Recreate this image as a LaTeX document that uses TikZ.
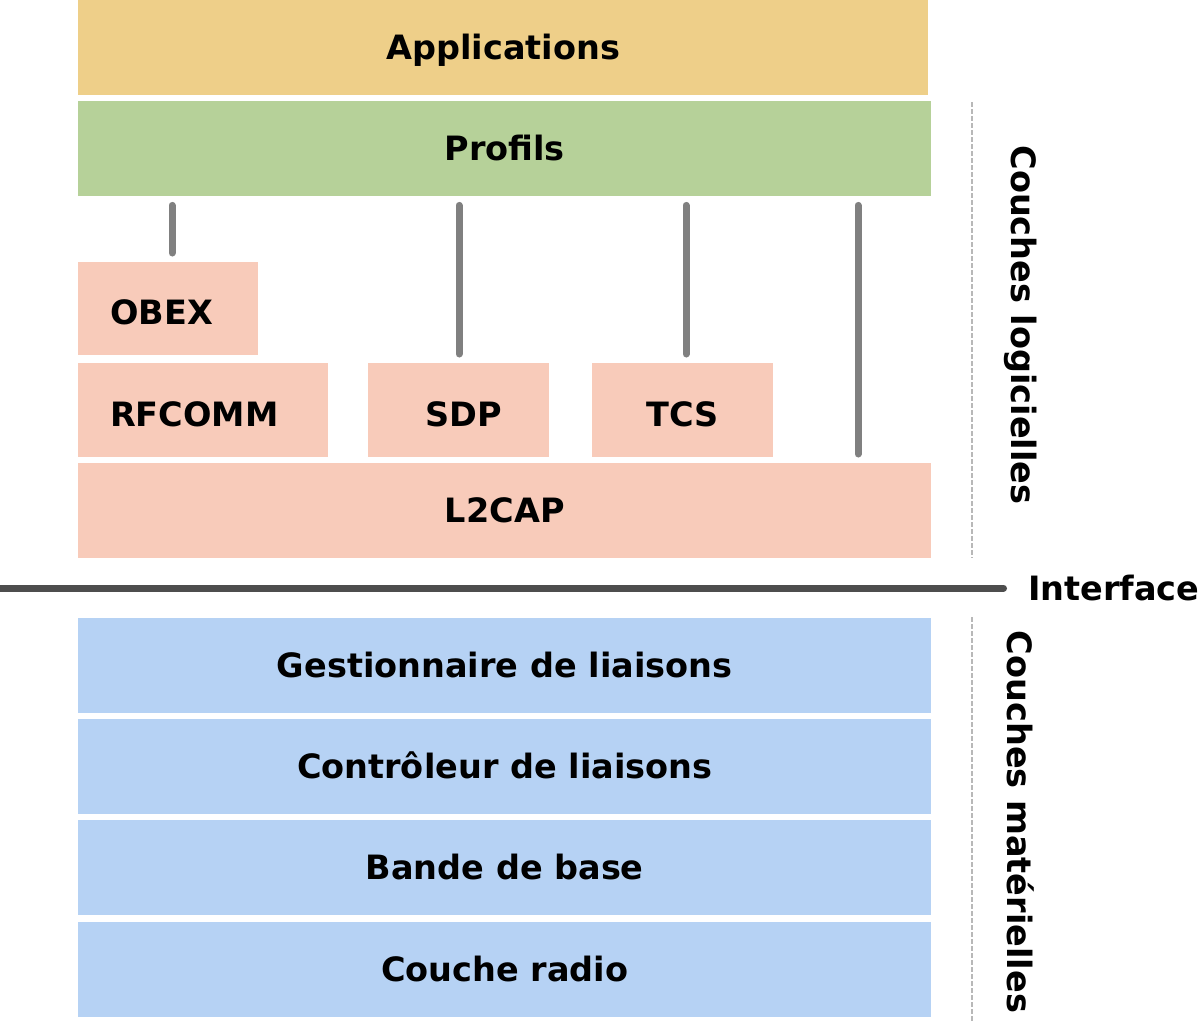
\documentclass[tikz,border=0pt]{standalone}
\usepackage{fontspec}
\setmainfont{DejaVu Sans}
\definecolor{appc}{HTML}{EECF89}
\definecolor{profc}{HTML}{B6D199}
\definecolor{pinkc}{HTML}{F8CBBA}
\definecolor{bluec}{HTML}{B6D2F4}
\definecolor{connc}{HTML}{808080}
\definecolor{ifc}{HTML}{4D4D4D}
\definecolor{dashc}{HTML}{B8B8B8}
\begin{document}
\begin{tikzpicture}[x=1pt,y=-1pt,
  lbl/.style={font=\fontsize{33.5}{40}\bfseries\selectfont, text=black},
  layer/.style={lbl, anchor=north west, inner sep=0pt, draw=none, text height=24.4pt, text depth=0pt},
  lower/.style={text height=32.4pt},
  conn/.style={draw=connc, line width=7pt, line cap=round, shorten <=9pt, shorten >=9pt},
  sep/.style={draw=dashc, line width=2.5pt, dash pattern=on 5pt off 2pt}]
\useasboundingbox[fill=white] (0,0) rectangle (1200,1021);
% software layers
\node[layer, fill=appc, minimum width=850pt, minimum height=95pt] (app) at (78,0) {Applications};
\node[layer, fill=profc, minimum width=853pt, minimum height=95pt] (prof) at (78,101) {Profils};
\node[layer, lower, fill=pinkc, minimum height=93pt, text width=116pt, inner xsep=32pt, align=left] (obex) at (78,262) {OBEX};
\node[layer, lower, fill=pinkc, minimum height=94pt, text width=186pt, inner xsep=32pt, align=left] (rfc) at (78,363) {RFCOMM};
\node[layer, lower, fill=pinkc, minimum width=181pt, minimum height=94pt] (sdp) at (368,363) {\hspace*{10pt}SDP};
\node[layer, lower, fill=pinkc, minimum width=181pt, minimum height=94pt] (tcs) at (592,363) {TCS};
\node[layer, fill=pinkc, minimum width=853pt, minimum height=95pt] (l2cap) at (78,463) {L2CAP};
% connectors
\draw[conn] (prof.south -| 172,0) -- (obex.north -| 172,0);
\draw[conn] (prof.south -| 459,0) -- (sdp.north -| 459,0);
\draw[conn] (prof.south -| 686,0) -- (tcs.north -| 686,0);
\draw[conn] (prof.south -| 858,0) -- (l2cap.north -| 858,0);
% interface
\node[lbl, anchor=west, inner sep=0pt, text height=24.4pt, text depth=0pt] (iface) at (1028,588) {Interface};
\coordinate (ifl) at (-10,588);
\draw[draw=ifc, line width=7pt, line cap=round, shorten >=24.5pt] (ifl) -- (iface.west |- ifl);
% hardware layers
\node[layer, fill=bluec, minimum width=853pt, minimum height=95pt] (glm) at (78,618) {Gestionnaire de liaisons};
\node[layer, fill=bluec, minimum width=853pt, minimum height=95pt] (ctl) at (78,719) {Contrôleur de liaisons};
\node[layer, fill=bluec, minimum width=853pt, minimum height=95pt] (bb) at (78,820) {Bande de base};
\node[layer, fill=bluec, minimum width=853pt, minimum height=95pt] (rad) at (78,922) {Couche radio};
% separators
\coordinate (s1) at (972,102);
\coordinate (s2) at (972,558);
\coordinate (h1) at (972,617);
\coordinate (h2) at (972,1021);
\draw[sep] (s1) -- (s2);
\draw[sep] (h1) -- (h2);
\node[lbl, rotate=-90, inner sep=0pt] (soft) at (1021,325) {Couches logicielles};
\node[lbl, rotate=-90, inner sep=0pt] (hard) at (1021,822) {Couches matérielles};
\end{tikzpicture}
\end{document}
